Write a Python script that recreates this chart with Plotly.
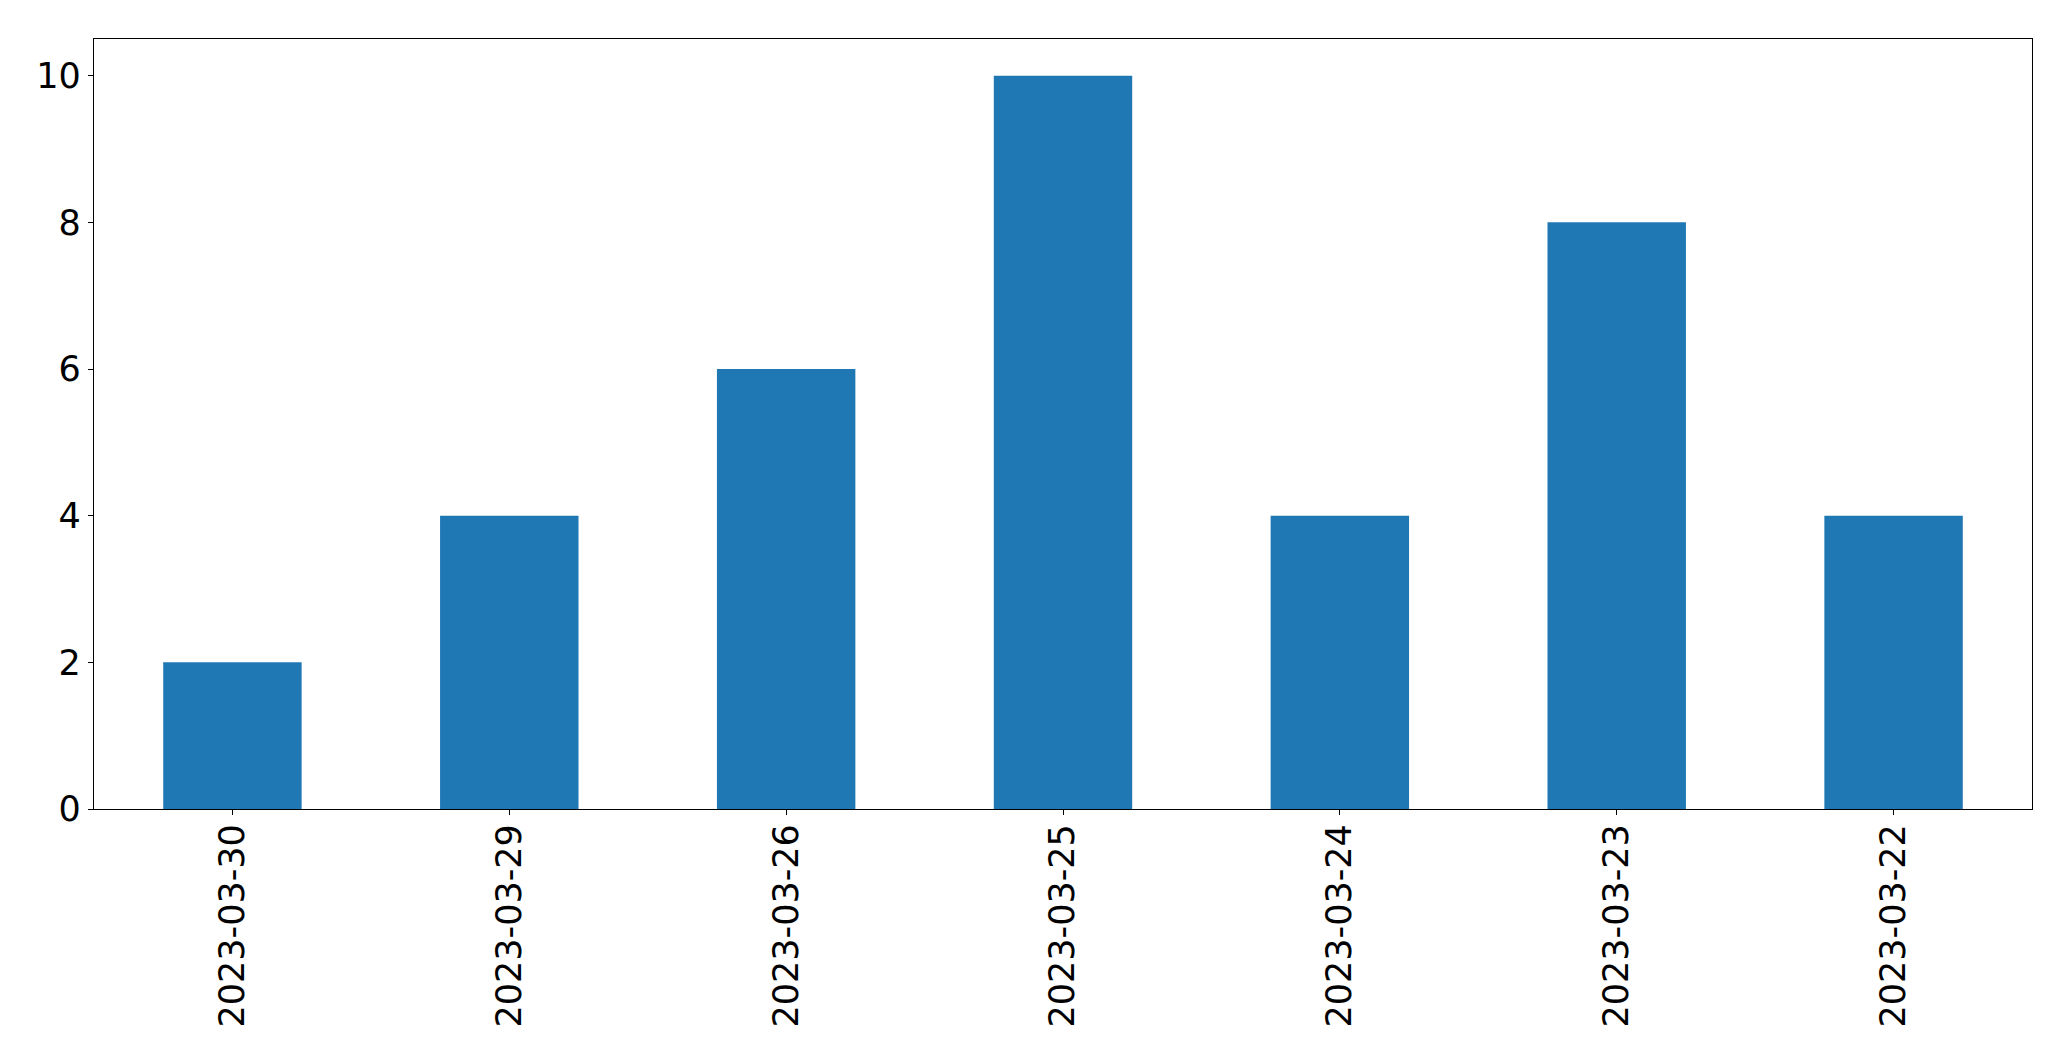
import plotly.graph_objects as go

# counts per day, in the order shown (newest first)
dates = ['2023-03-30', '2023-03-29', '2023-03-26', '2023-03-25',
         '2023-03-24', '2023-03-23', '2023-03-22']
counts = [2, 4, 6, 10, 4, 8, 4]
y_ticks = [0, 2, 4, 6, 8, 10]

axis_style = dict(
    showline=True, mirror=True, linecolor='black', linewidth=1.3,
    ticks='outside', ticklen=5, tickwidth=1.3, tickcolor='black',
    showgrid=False, zeroline=False,
    tickfont=dict(family='DejaVu Sans', size=35, color='black'),
)

fig = go.Figure(
    data=go.Bar(x=dates, y=counts, width=0.5, marker_color='#1f77b4',
                marker_line_width=0),
    layout={
        'width': 2071,
        'height': 1061,
        # page body adds 8px, so margins are pulled in to match
        'margin': dict(l=86, r=47, t=31, b=260),
        'plot_bgcolor': 'white',
        'paper_bgcolor': 'white',
        'showlegend': False,
    },
)
fig.update_xaxes(type='category', tickangle=-90, range=[-0.5, 6.5],
                 ticklabelstandoff=-5, **axis_style)
fig.update_yaxes(range=[0, 10.5], tickvals=y_ticks, **axis_style)

fig.write_html("out.html")
